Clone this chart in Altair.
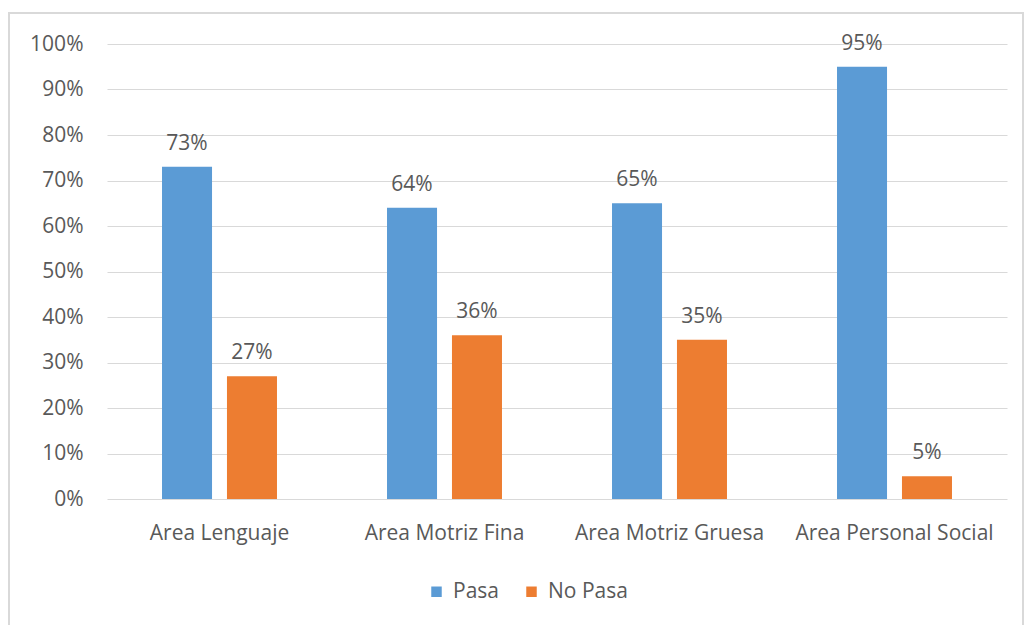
import altair as alt
import pandas as pd

categories = ["Area Lenguaje", "Area Motriz Fina", "Area Motriz Gruesa", "Area Personal Social"]
series = ["Pasa", "No Pasa"]
pasa = [0.73, 0.64, 0.65, 0.95]
no_pasa = [0.27, 0.36, 0.35, 0.05]
colors = ["#5B9BD5", "#ED7D31"]

rows = []
for c, p, n in zip(categories, pasa, no_pasa):
    rows.append({"Area": c, "Serie": "Pasa", "Valor": p})
    rows.append({"Area": c, "Serie": "No Pasa", "Valor": n})
df = pd.DataFrame(rows)

FONT = "Open Sans"
GRAY = "#595959"
FS = 21

x = alt.X("Area:N", sort=categories, title=None,
          scale=alt.Scale(paddingInner=0.489, paddingOuter=0.2445),
          axis=alt.Axis(labelAngle=0, labelFontSize=FS, labelColor=GRAY, labelFont=FONT,
                        ticks=False, domain=False, grid=False, labelPadding=23, labelLimit=400))
xo = alt.XOffset("Serie:N", sort=series, scale=alt.Scale(paddingInner=0.23, paddingOuter=0))
y = alt.Y("Valor:Q", title=None,
          scale=alt.Scale(domain=[0, 1], nice=False),
          axis=alt.Axis(format=".0%", values=[i / 10 for i in range(11)], labelFontSize=FS,
                        labelColor=GRAY, labelFont=FONT, ticks=False, domain=False,
                        gridColor="#D9D9D9", gridWidth=1, labelPadding=24))
color = alt.Color("Serie:N", sort=series, title=None,
                  scale=alt.Scale(domain=series, range=colors),
                  legend=alt.Legend(orient="none", legendX=319, legendY=537, direction="horizontal",
                                    symbolType="square", symbolSize=110, symbolStrokeWidth=0,
                                    labelFontSize=FS, labelColor=GRAY, labelFont=FONT,
                                    columnPadding=22, labelOffset=6))

border = alt.Chart(pd.DataFrame({"a": [0]})).mark_rect(
    fill=None, stroke="#D9D9D9", strokeWidth=2
).encode(x=alt.value(-98), x2=alt.value(916), y=alt.value(-31), y2=alt.value(600))

bars = alt.Chart(df).mark_bar().encode(x=x, xOffset=xo, y=y, color=color)
labels = alt.Chart(df).mark_text(baseline="alphabetic", dy=-17, fontSize=FS, color=GRAY, font=FONT).encode(
    x=x, xOffset=xo, y=y, text=alt.Text("Valor:Q", format=".0%"))

chart = alt.layer(border, bars, labels).properties(
    width=900, height=455,
    background="white",
    autosize=alt.AutoSizeParams(type="none"),
    padding={"left": 107, "top": 44, "right": 22, "bottom": 126},
).configure_view(stroke="transparent", strokeWidth=0)

chart.save("out.html", embed_options={"renderer": "svg", "actions": False})
